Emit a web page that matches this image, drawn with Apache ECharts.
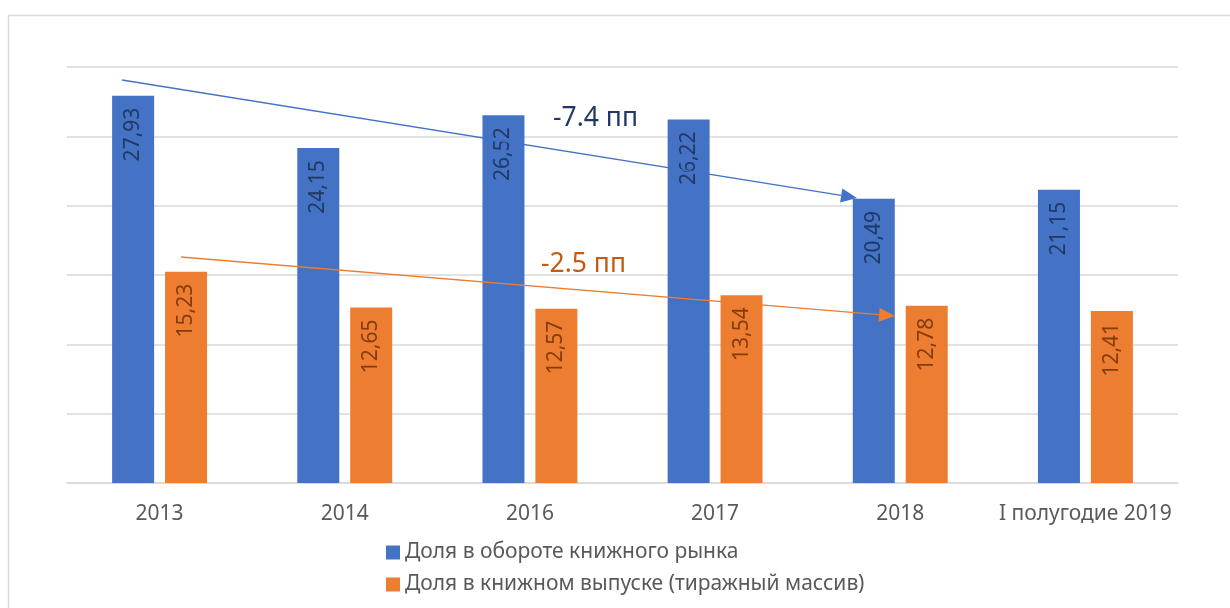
<!DOCTYPE html>
<html>
<head>
<meta charset="utf-8">
<script src="https://cdn.jsdelivr.net/npm/echarts@6/dist/echarts.min.js"></script>
<style>
  html, body { margin: 0; padding: 0; background: #fff; }
  #main { width: 1230px; height: 608px; }
</style>
</head>
<body>
<div id="main"></div>
<script>
// категории и значения
var years = ['2013', '2014', '2016', '2017', '2018', 'I полугодие 2019'];
var turnoverShare = [27.93, 24.15, 26.52, 26.22, 20.49, 21.15];
var outputShare = [15.23, 12.65, 12.57, 13.54, 12.78, 12.41];
var seriesNames = ['Доля в обороте книжного рынка', 'Доля в книжном выпуске (тиражный массив)'];

var FONT = '"Noto Sans", "Open Sans", sans-serif';

// стрелка: линия + треугольник на конце
function arrow(x1, y1, x2, y2, color) {
    var a = Math.atan2(y2 - y1, x2 - x1);
    var len = 16, half = 7;
    var bx = x2 - len * Math.cos(a), by = y2 - len * Math.sin(a);
    var px = -Math.sin(a) * half, py = Math.cos(a) * half;
    return [{
        type: 'line',
        z: 100,
        shape: {x1: x1, y1: y1, x2: bx, y2: by},
        style: {stroke: color, lineWidth: 1.3}
    }, {
        type: 'polygon',
        z: 100,
        shape: {points: [[x2, y2], [bx + px, by + py], [bx - px, by - py]]},
        style: {fill: color}
    }];
}

var myChart = echarts.init(document.getElementById('main'));

var labelCommon = {
    show: true,
    position: 'insideTop',
    rotate: 90,
    align: 'right',
    verticalAlign: 'middle',
    distance: 12,
    fontFamily: FONT,
    fontSize: 21,
    formatter: function (p) {
        return p.value.toFixed(2).replace('.', ',');
    }
};

var option = {
    animation: false,
    backgroundColor: '#fff',
    grid: {left: 67, right: 52, top: 67, bottom: 125},
    legend: {
        orient: 'vertical',
        left: 381,
        top: 537,
        itemWidth: 14,
        itemHeight: 14,
        itemGap: 11,
        icon: 'rect',
        textStyle: {color: '#595959', fontSize: 21, fontFamily: FONT},
        data: seriesNames
    },
    xAxis: {
        type: 'category',
        data: years,
        axisLine: {lineStyle: {color: '#D9D9D9', width: 1.5}},
        axisTick: {show: false},
        axisLabel: {color: '#595959', fontSize: 21, fontFamily: FONT, margin: 21, interval: 0}
    },
    yAxis: {
        type: 'value',
        min: 0,
        max: 30,
        interval: 5,
        axisLabel: {show: false},
        axisLine: {show: false},
        axisTick: {show: false},
        splitLine: {lineStyle: {color: '#D9D9D9', width: 1.5}}
    },
    series: [{
        name: seriesNames[0],
        type: 'bar',
        data: turnoverShare,
        barWidth: 42,
        barGap: '26%',
        itemStyle: {color: '#4472C4'},
        label: Object.assign({color: '#203864'}, labelCommon)
    }, {
        name: seriesNames[1],
        type: 'bar',
        data: outputShare,
        barWidth: 42,
        itemStyle: {color: '#ED7D31'},
        label: Object.assign({color: '#843C0C'}, labelCommon)
    }],
    graphic: [].concat(
        [{
            type: 'rect',
            shape: {x: 8.5, y: 15.5, width: 1240, height: 620},
            style: {fill: 'none', stroke: '#D9D9D9', lineWidth: 1.5},
            silent: true
        }],
        arrow(122, 80, 857, 198, '#4472C4'),
        arrow(181, 257, 895, 316, '#ED7D31'),
        [{
            type: 'text',
            z: 100,
            left: 553,
            top: 105,
            style: {text: '-7.4 пп', fill: '#203864', fontSize: 26.5, fontFamily: FONT}
        }, {
            type: 'text',
            z: 100,
            left: 541,
            top: 251,
            style: {text: '-2.5 пп', fill: '#C55A11', fontSize: 26.5, fontFamily: FONT}
        }]
    )
};

myChart.setOption(option);
</script>
</body>
</html>
